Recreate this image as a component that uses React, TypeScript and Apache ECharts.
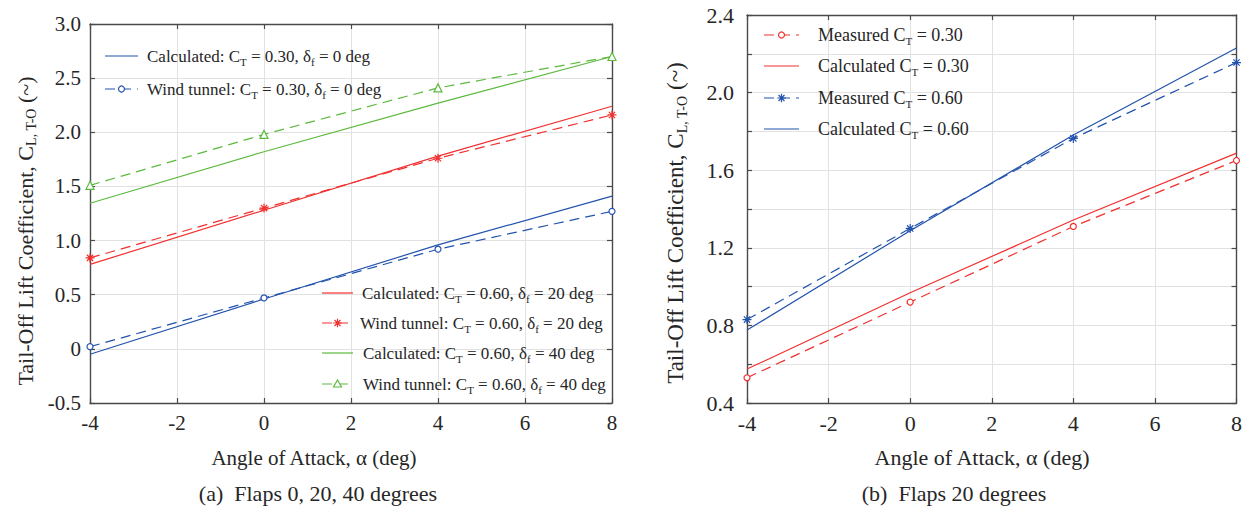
import React, { useEffect, useRef } from "react";
import * as echarts from "echarts";

// ---------- data ----------
const alphaDeg = [-4, 0, 4, 8];

// (a) Flaps 0, 20, 40 degrees
const calcCT030F0 = [-0.05, 0.46, 0.96, 1.41];
const wtCT030F0 = [0.02, 0.47, 0.92, 1.27];
const calcCT060F20 = [0.78, 1.28, 1.78, 2.24];
const wtCT060F20 = [0.84, 1.3, 1.76, 2.16];
const calcCT060F40 = [1.345, 1.82, 2.27, 2.7];
const wtCT060F40 = [1.51, 1.98, 2.41, 2.7];

// (b) Flaps 20 degrees
const measCT030 = [0.53, 0.92, 1.31, 1.65];
const calcCT030 = [0.575, 0.968, 1.343, 1.688];
const measCT060 = [0.83, 1.3, 1.764, 2.155];
const calcCT060 = [0.776, 1.288, 1.781, 2.23];

const xTicks = [-4, -2, 0, 2, 4, 6, 8];

const LEGEND_A_TOP = [
  "{r|Calculated: C}{s|T}{r| = 0.30, δ}{s|f}{r| = 0 deg}",
  "{r|Wind tunnel: C}{s|T}{r| = 0.30, δ}{s|f}{r| = 0 deg}",
];
const LEGEND_A_BOTTOM = [
  "{r|Calculated: C}{s|T}{r| = 0.60, δ}{s|f}{r| = 20 deg}",
  "{r|Wind tunnel: C}{s|T}{r| = 0.60, δ}{s|f}{r| = 20 deg}",
  "{r|Calculated: C}{s|T}{r| = 0.60, δ}{s|f}{r| = 40 deg}",
  "{r|Wind tunnel: C}{s|T}{r| = 0.60, δ}{s|f}{r| = 40 deg}",
];
const LEGEND_B = [
  "{r|Measured C}{s|T}{r| = 0.30}",
  "{r|Calculated C}{s|T}{r| = 0.30}",
  "{r|Measured C}{s|T}{r| = 0.60}",
  "{r|Calculated C}{s|T}{r| = 0.60}",
];

// ---------- styles ----------
const FONT = "Liberation Serif";
const TXT = "#262626";
const BOX = "#4a4a4a";
const GRIDC = "#e2e2e2";
const BLUE = "#2353ad";
const RED = "#f0302f";
const GREEN = "#5dba3f";
const AST_D = "M0,-5L0,5M-5,0L5,0M-3.5,-3.5L3.5,3.5M-3.5,3.5L3.5,-3.5";
const ASTERISK = "path://M5,0L5,10M0,5L10,5M1.5,1.5L8.5,8.5M1.5,8.5L8.5,1.5";
const DASH = [10, 6];

echarts.graphic.registerShape("asteriskMark", echarts.graphic.extendPath(AST_D, {}) as any);

function rich(size: number) {
  return {
    r: { fontFamily: FONT, fontSize: size, lineHeight: size + 5, color: TXT },
    s: {
      fontFamily: FONT,
      fontSize: Math.round(size * 0.62),
      lineHeight: 8,
      verticalAlign: "bottom",
      color: TXT,
    },
  };
}

const pairs = (ys: number[]) => alphaDeg.map((x, i) => [x, ys[i]]);

function lineSeries(
  name: string,
  ys: number[],
  color: string,
  grid: number,
  dashed: boolean,
  symbol: string,
  symbolSize: number
) {
  return {
    type: "line",
    name,
    xAxisIndex: grid === 0 ? 0 : 2,
    yAxisIndex: grid === 0 ? 0 : 2,
    data: pairs(ys),
    symbol,
    symbolSize,
    showSymbol: symbol !== "none",
    lineStyle: { color, width: 1.2, type: dashed ? DASH : "solid" },
    itemStyle: {
      color: symbol === ASTERISK ? color : "#ffffff",
      borderColor: color,
      borderWidth: 1.2,
    },
    color,
    z: dashed ? 3 : 2,
  };
}

function xAxes(grid: number, fontSize: number) {
  const common = {
    type: "value",
    gridIndex: grid,
    min: -4,
    max: 8,
    interval: 2,
    axisLine: { show: true, onZero: false, lineStyle: { color: BOX, width: 1.4 } },
    axisTick: { show: true, inside: true, length: 5, lineStyle: { color: BOX, width: 1.2 } },
  };
  return [
    {
      ...common,
      position: "bottom",
      axisLabel: {
        show: true,
        margin: 9,
        fontFamily: FONT,
        fontSize,
        color: TXT,
        formatter: (v: number) => (xTicks.includes(v) ? String(v) : ""),
      },
      splitLine: { show: true, lineStyle: { color: GRIDC, width: 1 } },
    },
    {
      ...common,
      position: "top",
      axisLabel: { show: false },
      splitLine: { show: false },
    },
  ];
}

function yAxes(
  grid: number,
  min: number,
  max: number,
  interval: number,
  fontSize: number,
  margin: number,
  fmt: (v: number) => string
) {
  const common = {
    type: "value",
    gridIndex: grid,
    min,
    max,
    interval,
    axisLine: { show: true, onZero: false, lineStyle: { color: BOX, width: 1.4 } },
    axisTick: { show: true, inside: true, length: 5, lineStyle: { color: BOX, width: 1.2 } },
  };
  return [
    {
      ...common,
      position: "left",
      axisLabel: { show: true, margin, fontFamily: FONT, fontSize, color: TXT, formatter: fmt },
      splitLine: { show: true, lineStyle: { color: GRIDC, width: 1 } },
    },
    {
      ...common,
      position: "right",
      axisLabel: { show: false },
      splitLine: { show: false },
    },
  ];
}

function textEl(
  text: string,
  x: number,
  y: number,
  fontSize: number,
  rotation = 0,
  withRich = false,
  align = "center"
) {
  return {
    type: "text",
    x,
    y,
    rotation,
    silent: true,
    z: 10,
    style: {
      text,
      align,
      verticalAlign: "middle",
      fontFamily: FONT,
      fontSize,
      fill: TXT,
      ...(withRich ? { rich: rich(fontSize) } : {}),
    },
  };
}

type Mark = "none" | "circle" | "asterisk" | "triangle";
function legendEntry(
  label: string,
  color: string,
  dashed: boolean,
  mark: Mark,
  x0: number,
  x1: number,
  y: number,
  tx: number,
  fontSize: number
) {
  const els: any[] = [
    {
      type: "line",
      silent: true,
      z: 10,
      shape: { x1: x0, y1: y, x2: x1, y2: y },
      style: { stroke: color, lineWidth: 1.2, lineDash: dashed ? DASH : null },
    },
  ];
  const cx = (x0 + x1) / 2;
  if (mark === "circle") {
    els.push({
      type: "circle",
      silent: true,
      z: 11,
      shape: { cx, cy: y, r: 3 },
      style: { fill: "#fff", stroke: color, lineWidth: 1.2 },
    });
  } else if (mark === "triangle") {
    els.push({
      type: "polygon",
      silent: true,
      z: 11,
      shape: { points: [[cx, y - 4], [cx + 4, y + 3], [cx - 4, y + 3]] },
      style: { fill: "#fff", stroke: color, lineWidth: 1.2 },
    });
  } else if (mark === "asterisk") {
    els.push({
      type: "asteriskMark",
      silent: true,
      z: 11,
      x: cx,
      y,
      scaleX: 0.85,
      scaleY: 0.85,
      style: { fill: "none", stroke: color, lineWidth: 1.4 },
    });
  }
  els.push(textEl(label, tx, y, fontSize, 0, true, "left"));
  return els;
}

export default function App() {
  const ref = useRef<HTMLDivElement>(null);

  useEffect(() => {
    if (!ref.current) return;
    const chart = echarts.init(ref.current, undefined, { renderer: "svg" });

    const leftFmt = (v: number) => (Math.abs(v) < 1e-9 ? "0" : v.toFixed(1));
    const rightFmt = (v: number) => {
      const k = v / 0.4;
      return Math.abs(k - Math.round(k)) < 1e-6 ? v.toFixed(1) : "";
    };

    const legendEls = [
      ...legendEntry(LEGEND_A_TOP[0], BLUE, false, "none", 105, 138, 56, 147, 17),
      ...legendEntry(LEGEND_A_TOP[1], BLUE, true, "circle", 105, 138, 89, 147, 17),
      ...legendEntry(LEGEND_A_BOTTOM[0], RED, false, "none", 322, 353, 293, 362, 17),
      ...legendEntry(LEGEND_A_BOTTOM[1], RED, true, "asterisk", 322, 353, 323, 360, 17),
      ...legendEntry(LEGEND_A_BOTTOM[2], GREEN, false, "none", 322, 353, 353, 363, 17),
      ...legendEntry(LEGEND_A_BOTTOM[3], GREEN, true, "triangle", 322, 353, 384, 363, 17),
      ...legendEntry(LEGEND_B[0], RED, true, "circle", 764, 799, 35, 818, 18),
      ...legendEntry(LEGEND_B[1], RED, false, "none", 764, 799, 66, 818, 18),
      ...legendEntry(LEGEND_B[2], BLUE, true, "asterisk", 764, 799, 98, 818, 18),
      ...legendEntry(LEGEND_B[3], BLUE, false, "none", 764, 799, 129, 818, 18),
    ];

    const option = {
      animation: false,
      backgroundColor: "#ffffff",
      textStyle: { fontFamily: FONT },
      grid: [
        { left: 90, top: 24, width: 522, height: 379 },
        { left: 747, top: 15, width: 490, height: 388 },
      ],
      xAxis: [...xAxes(0, 21), ...xAxes(1, 22)],
      yAxis: [
        ...yAxes(0, -0.5, 3.0, 0.5, 21, 9, leftFmt),
        ...yAxes(1, 0.4, 2.4, 0.2, 22, 13, rightFmt),
      ],
      series: [
        lineSeries("calc 0.30 f0", calcCT030F0, BLUE, 0, false, "none", 0),
        lineSeries("wt 0.30 f0", wtCT030F0, BLUE, 0, true, "circle", 6),
        lineSeries("calc 0.60 f20", calcCT060F20, RED, 0, false, "none", 0),
        lineSeries("wt 0.60 f20", wtCT060F20, RED, 0, true, ASTERISK, 9),
        lineSeries("calc 0.60 f40", calcCT060F40, GREEN, 0, false, "none", 0),
        lineSeries("wt 0.60 f40", wtCT060F40, GREEN, 0, true, "triangle", 8),
        lineSeries("meas 0.30", measCT030, RED, 1, true, "circle", 6),
        lineSeries("calc 0.30", calcCT030, RED, 1, false, "none", 0),
        lineSeries("meas 0.60", measCT060, BLUE, 1, true, ASTERISK, 9),
        lineSeries("calc 0.60", calcCT060, BLUE, 1, false, "none", 0),
      ],
      graphic: [
        textEl("{r|Tail-Off Lift Coefficient, C}{s|L, T-O}{r| (~)}", 25, 231, 22, Math.PI / 2, true),
        textEl("{r|Tail-Off Lift Coefficient, C}{s|L, T-O}{r| (~)}", 675, 223, 23, Math.PI / 2, true),
        textEl("Angle of Attack, α (deg)", 314, 458, 21),
        textEl("Angle of Attack, α (deg)", 982, 457, 22),
        textEl("(a)  Flaps 0, 20, 40 degrees", 318, 493, 22),
        textEl("(b)  Flaps 20 degrees", 954, 493, 22),
        ...legendEls,
      ],
    };

    chart.setOption(option as any);
    return () => chart.dispose();
  }, []);

  return (
    <div
      ref={ref}
      style={{ position: "fixed", left: 0, top: 0, width: 1245, height: 506, background: "#fff" }}
    />
  );
}
